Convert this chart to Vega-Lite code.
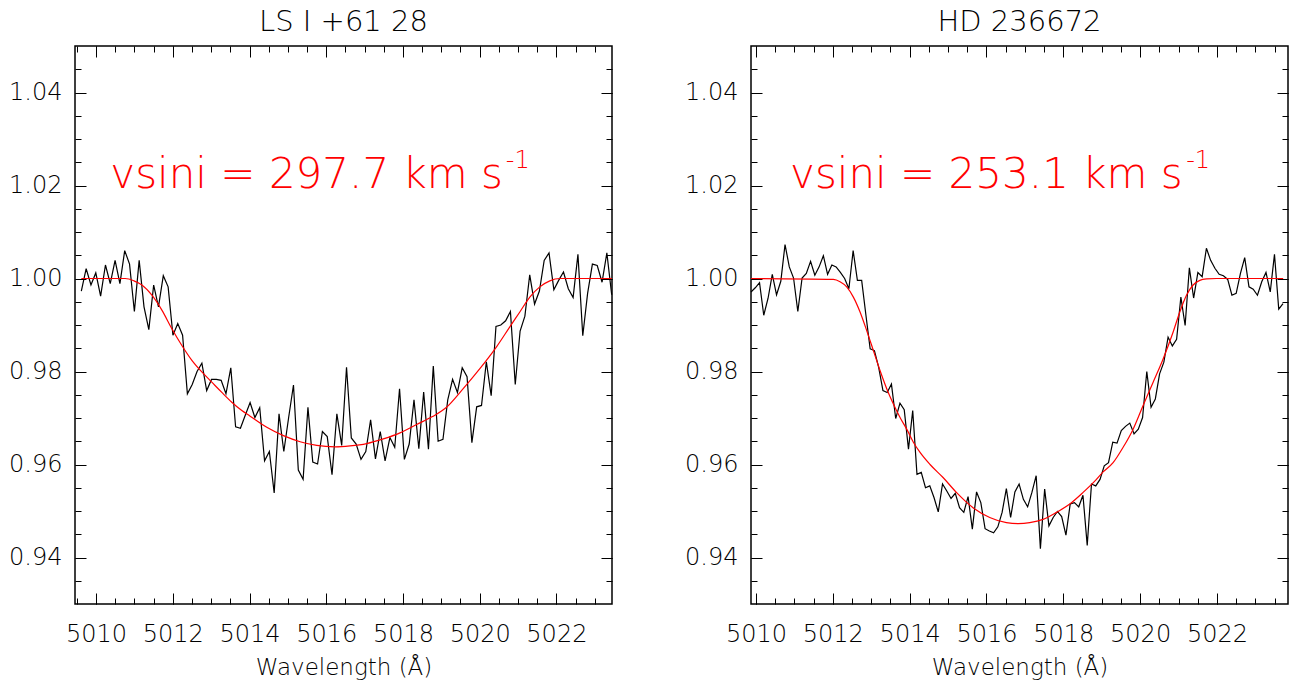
{
  "$schema": "https://vega.github.io/schema/vega-lite/v6.json",
  "background": "white",
  "padding": {"left": 7, "top": 6, "right": 10, "bottom": 5},
  "spacing": 68,
  "config": {
    "view": {"stroke": "#000000", "strokeWidth": 1.5},
    "axis": {"grid": false, "domain": false, "tickColor": "#000000", "tickWidth": 1, "labelColor": "#000000", "labelFont": "DejaVu Sans", "labelFontWeight": 200, "labelFontSize": 24, "titleFont": "DejaVu Sans", "titleFontWeight": 200, "titleFontSize": 23, "titleColor": "#000000"},
    "title": {"font": "DejaVu Sans", "fontWeight": 200, "fontSize": 29, "color": "#000000", "offset": 9},
    "line": {"strokeWidth": 1.2}
  },
  "datasets": {
    "left_obs": [
      {"w": 5009.615, "f": 0.9973}, {"w": 5009.741, "f": 1.0021}, {"w": 5009.866, "f": 0.9986}, {"w": 5009.992, "f": 1.0012}, {"w": 5010.118, "f": 0.9962}, {"w": 5010.244, "f": 1.0029}, {"w": 5010.369, "f": 0.9989}, {"w": 5010.495, "f": 1.0039}, {"w": 5010.621, "f": 0.9989}, {"w": 5010.746, "f": 1.006},
      {"w": 5010.872, "f": 1.0031}, {"w": 5010.998, "f": 0.9929}, {"w": 5011.123, "f": 1.0039}, {"w": 5011.249, "f": 0.9939}, {"w": 5011.375, "f": 0.989}, {"w": 5011.501, "f": 0.9986}, {"w": 5011.626, "f": 0.9939}, {"w": 5011.752, "f": 1.0006}, {"w": 5011.878, "f": 0.9982}, {"w": 5012.003, "f": 0.9878},
      {"w": 5012.129, "f": 0.9903}, {"w": 5012.255, "f": 0.9878}, {"w": 5012.38, "f": 0.9752}, {"w": 5012.506, "f": 0.9772}, {"w": 5012.632, "f": 0.98}, {"w": 5012.758, "f": 0.9818}, {"w": 5012.883, "f": 0.9759}, {"w": 5013.009, "f": 0.9783}, {"w": 5013.135, "f": 0.9783}, {"w": 5013.26, "f": 0.9781},
      {"w": 5013.386, "f": 0.9752}, {"w": 5013.512, "f": 0.9808}, {"w": 5013.637, "f": 0.9681}, {"w": 5013.763, "f": 0.9678}, {"w": 5013.889, "f": 0.9706}, {"w": 5014.015, "f": 0.9733}, {"w": 5014.14, "f": 0.9701}, {"w": 5014.266, "f": 0.9722}, {"w": 5014.392, "f": 0.9608}, {"w": 5014.517, "f": 0.9628},
      {"w": 5014.643, "f": 0.9539}, {"w": 5014.769, "f": 0.9709}, {"w": 5014.894, "f": 0.9628}, {"w": 5015.02, "f": 0.9701}, {"w": 5015.146, "f": 0.9771}, {"w": 5015.272, "f": 0.9588}, {"w": 5015.397, "f": 0.9568}, {"w": 5015.523, "f": 0.9723}, {"w": 5015.649, "f": 0.9605}, {"w": 5015.774, "f": 0.9601},
      {"w": 5015.9, "f": 0.9671}, {"w": 5016.026, "f": 0.966}, {"w": 5016.151, "f": 0.9578}, {"w": 5016.277, "f": 0.9709}, {"w": 5016.403, "f": 0.9641}, {"w": 5016.529, "f": 0.9809}, {"w": 5016.654, "f": 0.9657}, {"w": 5016.78, "f": 0.9644}, {"w": 5016.906, "f": 0.9611}, {"w": 5017.031, "f": 0.9628},
      {"w": 5017.157, "f": 0.9696}, {"w": 5017.283, "f": 0.9612}, {"w": 5017.408, "f": 0.9671}, {"w": 5017.534, "f": 0.9608}, {"w": 5017.66, "f": 0.9658}, {"w": 5017.786, "f": 0.9637}, {"w": 5017.911, "f": 0.9763}, {"w": 5018.037, "f": 0.9611}, {"w": 5018.163, "f": 0.9644}, {"w": 5018.288, "f": 0.9739},
      {"w": 5018.414, "f": 0.9634}, {"w": 5018.54, "f": 0.9756}, {"w": 5018.665, "f": 0.9633}, {"w": 5018.791, "f": 0.9812}, {"w": 5018.917, "f": 0.965}, {"w": 5019.043, "f": 0.9654}, {"w": 5019.168, "f": 0.9739}, {"w": 5019.294, "f": 0.9783}, {"w": 5019.42, "f": 0.9755}, {"w": 5019.545, "f": 0.9808},
      {"w": 5019.671, "f": 0.9789}, {"w": 5019.797, "f": 0.9647}, {"w": 5019.922, "f": 0.9724}, {"w": 5020.048, "f": 0.9727}, {"w": 5020.174, "f": 0.9821}, {"w": 5020.3, "f": 0.9748}, {"w": 5020.425, "f": 0.9897}, {"w": 5020.551, "f": 0.99}, {"w": 5020.677, "f": 0.9909}, {"w": 5020.802, "f": 0.9929},
      {"w": 5020.928, "f": 0.9772}, {"w": 5021.054, "f": 0.9887}, {"w": 5021.179, "f": 0.9919}, {"w": 5021.305, "f": 1.0008}, {"w": 5021.431, "f": 0.9945}, {"w": 5021.557, "f": 0.9973}, {"w": 5021.682, "f": 1.0039}, {"w": 5021.808, "f": 1.0055}, {"w": 5021.934, "f": 0.9976}, {"w": 5022.059, "f": 0.9996},
      {"w": 5022.185, "f": 1.0014}, {"w": 5022.311, "f": 0.9978}, {"w": 5022.436, "f": 0.9959}, {"w": 5022.562, "f": 1.0052}, {"w": 5022.688, "f": 0.9877}, {"w": 5022.814, "f": 0.9968}, {"w": 5022.939, "f": 1.0031}, {"w": 5023.065, "f": 1.0028}, {"w": 5023.191, "f": 0.9992}, {"w": 5023.316, "f": 1.0055},
      {"w": 5023.442, "f": 0.9965}
    ],
    "left_fit": [
      {"w": 5009.615, "f": 1.0}, {"w": 5010.76, "f": 1.0}, {"w": 5010.986, "f": 0.9995}, {"w": 5011.195, "f": 0.9986}, {"w": 5011.455, "f": 0.9964}, {"w": 5011.715, "f": 0.9932}, {"w": 5011.976, "f": 0.9892}, {"w": 5012.236, "f": 0.9856}, {"w": 5012.497, "f": 0.9824}, {"w": 5012.757, "f": 0.9799},
      {"w": 5013.017, "f": 0.9777}, {"w": 5013.278, "f": 0.9755}, {"w": 5013.538, "f": 0.9734}, {"w": 5013.799, "f": 0.9716}, {"w": 5014.016, "f": 0.9704}, {"w": 5014.45, "f": 0.968}, {"w": 5014.884, "f": 0.9662}, {"w": 5015.318, "f": 0.9649}, {"w": 5015.752, "f": 0.9641}, {"w": 5016.229, "f": 0.9638},
      {"w": 5016.62, "f": 0.964}, {"w": 5017.054, "f": 0.9645}, {"w": 5017.488, "f": 0.9655}, {"w": 5017.922, "f": 0.9668}, {"w": 5018.356, "f": 0.9686}, {"w": 5018.77, "f": 0.9703}, {"w": 5019.137, "f": 0.9723}, {"w": 5019.571, "f": 0.9763}, {"w": 5020.005, "f": 0.9806}, {"w": 5020.439, "f": 0.9853},
      {"w": 5020.786, "f": 0.9896}, {"w": 5021.047, "f": 0.9928}, {"w": 5021.307, "f": 0.996}, {"w": 5021.568, "f": 0.9982}, {"w": 5021.828, "f": 0.9995}, {"w": 5022.089, "f": 1.0}, {"w": 5023.443, "f": 1.0}
    ],
    "left_txt": [{"w": 5010.37, "f": 1.0195, "t": "vsini = 297.7 km s"}],
    "left_sup": [{"w": 5020.68, "f": 1.0238, "t": "-1"}],
    "right_obs": [
      {"w": 5009.87, "f": 0.9971}, {"w": 5009.981, "f": 0.998}, {"w": 5010.092, "f": 0.9991}, {"w": 5010.202, "f": 0.9921}, {"w": 5010.313, "f": 0.9957}, {"w": 5010.424, "f": 1.0009}, {"w": 5010.535, "f": 0.9965}, {"w": 5010.646, "f": 0.9994}, {"w": 5010.756, "f": 1.0073}, {"w": 5010.867, "f": 1.0025},
      {"w": 5010.978, "f": 1.0001}, {"w": 5011.089, "f": 0.9929}, {"w": 5011.2, "f": 1.0001}, {"w": 5011.31, "f": 1.0011}, {"w": 5011.421, "f": 1.0037}, {"w": 5011.532, "f": 1.0007}, {"w": 5011.643, "f": 1.0025}, {"w": 5011.754, "f": 1.0049}, {"w": 5011.864, "f": 1.0009}, {"w": 5011.975, "f": 1.0029},
      {"w": 5012.086, "f": 1.0025}, {"w": 5012.197, "f": 1.0013}, {"w": 5012.308, "f": 1.0}, {"w": 5012.418, "f": 0.9978}, {"w": 5012.529, "f": 1.006}, {"w": 5012.64, "f": 0.9996}, {"w": 5012.751, "f": 0.9996}, {"w": 5012.862, "f": 0.9921}, {"w": 5012.972, "f": 0.9849}, {"w": 5013.083, "f": 0.9845},
      {"w": 5013.194, "f": 0.9809}, {"w": 5013.305, "f": 0.9759}, {"w": 5013.416, "f": 0.9755}, {"w": 5013.526, "f": 0.9773}, {"w": 5013.637, "f": 0.9699}, {"w": 5013.748, "f": 0.9732}, {"w": 5013.859, "f": 0.9718}, {"w": 5013.97, "f": 0.9633}, {"w": 5014.08, "f": 0.9716}, {"w": 5014.191, "f": 0.9579},
      {"w": 5014.302, "f": 0.9583}, {"w": 5014.413, "f": 0.955}, {"w": 5014.524, "f": 0.9554}, {"w": 5014.634, "f": 0.9529}, {"w": 5014.745, "f": 0.9498}, {"w": 5014.856, "f": 0.9558}, {"w": 5014.967, "f": 0.9543}, {"w": 5015.078, "f": 0.9527}, {"w": 5015.188, "f": 0.9538}, {"w": 5015.299, "f": 0.9507},
      {"w": 5015.41, "f": 0.9497}, {"w": 5015.521, "f": 0.9531}, {"w": 5015.632, "f": 0.9461}, {"w": 5015.742, "f": 0.9541}, {"w": 5015.853, "f": 0.9518}, {"w": 5015.964, "f": 0.9462}, {"w": 5016.075, "f": 0.9457}, {"w": 5016.186, "f": 0.9453}, {"w": 5016.296, "f": 0.9466}, {"w": 5016.407, "f": 0.9497},
      {"w": 5016.518, "f": 0.9548}, {"w": 5016.629, "f": 0.9486}, {"w": 5016.74, "f": 0.9541}, {"w": 5016.85, "f": 0.9558}, {"w": 5016.961, "f": 0.9525}, {"w": 5017.072, "f": 0.9509}, {"w": 5017.183, "f": 0.954}, {"w": 5017.294, "f": 0.9576}, {"w": 5017.404, "f": 0.9419}, {"w": 5017.515, "f": 0.9547},
      {"w": 5017.626, "f": 0.9468}, {"w": 5017.737, "f": 0.9486}, {"w": 5017.848, "f": 0.9499}, {"w": 5017.958, "f": 0.9488}, {"w": 5018.069, "f": 0.9448}, {"w": 5018.18, "f": 0.9515}, {"w": 5018.291, "f": 0.9518}, {"w": 5018.402, "f": 0.9509}, {"w": 5018.512, "f": 0.9534}, {"w": 5018.623, "f": 0.9426},
      {"w": 5018.734, "f": 0.9558}, {"w": 5018.845, "f": 0.9554}, {"w": 5018.956, "f": 0.9568}, {"w": 5019.066, "f": 0.9597}, {"w": 5019.177, "f": 0.9604}, {"w": 5019.288, "f": 0.9648}, {"w": 5019.399, "f": 0.9646}, {"w": 5019.51, "f": 0.9673}, {"w": 5019.62, "f": 0.9682}, {"w": 5019.731, "f": 0.9689},
      {"w": 5019.842, "f": 0.9666}, {"w": 5019.953, "f": 0.9676}, {"w": 5020.064, "f": 0.9701}, {"w": 5020.174, "f": 0.98}, {"w": 5020.285, "f": 0.9723}, {"w": 5020.396, "f": 0.9741}, {"w": 5020.507, "f": 0.9795}, {"w": 5020.618, "f": 0.982}, {"w": 5020.728, "f": 0.9874}, {"w": 5020.839, "f": 0.9855},
      {"w": 5020.95, "f": 0.9869}, {"w": 5021.061, "f": 0.996}, {"w": 5021.172, "f": 0.9899}, {"w": 5021.282, "f": 1.0023}, {"w": 5021.393, "f": 0.9958}, {"w": 5021.504, "f": 1.0013}, {"w": 5021.615, "f": 1.0004}, {"w": 5021.726, "f": 1.0065}, {"w": 5021.836, "f": 1.0039}, {"w": 5021.947, "f": 1.0022},
      {"w": 5022.058, "f": 1.0009}, {"w": 5022.169, "f": 1.0006}, {"w": 5022.28, "f": 0.9998}, {"w": 5022.39, "f": 0.9964}, {"w": 5022.501, "f": 0.9968}, {"w": 5022.612, "f": 1.0011}, {"w": 5022.723, "f": 1.0045}, {"w": 5022.834, "f": 0.9982}, {"w": 5022.944, "f": 0.9977}, {"w": 5023.055, "f": 0.9964},
      {"w": 5023.166, "f": 0.9993}, {"w": 5023.277, "f": 1.0013}, {"w": 5023.388, "f": 0.9971}, {"w": 5023.498, "f": 1.0052}, {"w": 5023.609, "f": 0.9934}, {"w": 5023.72, "f": 0.9946}
    ],
    "right_fit": [
      {"w": 5009.87, "f": 1.0}, {"w": 5012.014, "f": 0.9998}, {"w": 5012.188, "f": 0.9993}, {"w": 5012.361, "f": 0.9982}, {"w": 5012.535, "f": 0.996}, {"w": 5012.709, "f": 0.9928}, {"w": 5012.882, "f": 0.9888}, {"w": 5013.056, "f": 0.9845}, {"w": 5013.229, "f": 0.9802}, {"w": 5013.403, "f": 0.9763},
      {"w": 5013.577, "f": 0.973}, {"w": 5013.75, "f": 0.9701}, {"w": 5013.924, "f": 0.9676}, {"w": 5014.097, "f": 0.9648}, {"w": 5014.271, "f": 0.9626}, {"w": 5014.531, "f": 0.96}, {"w": 5014.87, "f": 0.9572}, {"w": 5015.217, "f": 0.954}, {"w": 5015.651, "f": 0.9507}, {"w": 5016.085, "f": 0.9486},
      {"w": 5016.519, "f": 0.9475}, {"w": 5016.823, "f": 0.9473}, {"w": 5017.127, "f": 0.9475}, {"w": 5017.474, "f": 0.9482}, {"w": 5017.821, "f": 0.9497}, {"w": 5018.169, "f": 0.9515}, {"w": 5018.516, "f": 0.954}, {"w": 5018.863, "f": 0.9568}, {"w": 5019.037, "f": 0.9584}, {"w": 5019.297, "f": 0.9604},
      {"w": 5019.558, "f": 0.9637}, {"w": 5019.818, "f": 0.9676}, {"w": 5020.078, "f": 0.9727}, {"w": 5020.339, "f": 0.9777}, {"w": 5020.599, "f": 0.9827}, {"w": 5020.86, "f": 0.9885}, {"w": 5021.033, "f": 0.9928}, {"w": 5021.207, "f": 0.9964}, {"w": 5021.38, "f": 0.9986}, {"w": 5021.554, "f": 0.9996},
      {"w": 5021.728, "f": 0.9999}, {"w": 5021.988, "f": 1.0}, {"w": 5023.724, "f": 1.0}
    ],
    "right_txt": [{"w": 5010.886, "f": 1.0195, "t": "vsini = 253.1 km s"}],
    "right_sup": [{"w": 5021.2, "f": 1.0238, "t": "-1"}]
  },
  "hconcat": [
    {
      "width": 537, "height": 558,
      "title": {"text": "LS I +61  28"},
      "resolve": {"axis": {"x": "independent", "y": "independent"}},
      "layer": [
        {
          "data": {"name": "left_obs"},
          "mark": {"type": "line", "color": "#000000", "strokeWidth": 1.2},
          "encoding": {
            "x": {"field": "w", "type": "quantitative", "scale": {"domain": [5009.45, 5023.45], "nice": false, "zero": false},
              "axis": {"orient": "bottom", "values": [5010, 5012, 5014, 5016, 5018, 5020, 5022], "format": "d", "tickSize": -11, "labelPadding": 29, "title": "Wavelength (Å)", "titlePadding": 10}},
            "y": {"field": "f", "type": "quantitative", "scale": {"domain": [0.93, 1.05], "nice": false, "zero": false},
              "axis": {"orient": "left", "values": [0.94, 0.96, 0.98, 1.0, 1.02, 1.04], "format": ".2f", "tickSize": -11, "labelPadding": 24, "title": null}}
          }
        },
        {
          "data": {"name": "left_fit"},
          "mark": {"type": "line", "color": "#ff0000", "strokeWidth": 1.2, "interpolate": "monotone"},
          "encoding": {
            "x": {"field": "w", "type": "quantitative",
              "axis": {"orient": "bottom", "values": [5009.5, 5010, 5010.5, 5011, 5011.5, 5012, 5012.5, 5013, 5013.5, 5014, 5014.5, 5015, 5015.5, 5016, 5016.5, 5017, 5017.5, 5018, 5018.5, 5019, 5019.5, 5020, 5020.5, 5021, 5021.5, 5022, 5022.5, 5023], "tickSize": -6, "labels": false, "title": null}},
            "y": {"field": "f", "type": "quantitative",
              "axis": {"orient": "left", "values": [0.935, 0.94, 0.945, 0.95, 0.955, 0.96, 0.965, 0.97, 0.975, 0.98, 0.985, 0.99, 0.995, 1.0, 1.005, 1.01, 1.015, 1.02, 1.025, 1.03, 1.035, 1.04, 1.045], "tickSize": -6, "labels": false, "title": null}}
          }
        },
        {
          "data": {"name": "left_txt"},
          "mark": {"type": "text", "color": "#ff0000", "font": "DejaVu Sans", "fontWeight": 200, "fontSize": 42, "align": "left", "baseline": "alphabetic"},
          "encoding": {
            "x": {"field": "w", "type": "quantitative",
              "axis": {"orient": "top", "values": [5010, 5012, 5014, 5016, 5018, 5020, 5022], "tickSize": -11, "labels": false, "title": null}},
            "y": {"field": "f", "type": "quantitative",
              "axis": {"orient": "right", "values": [0.94, 0.96, 0.98, 1.0, 1.02, 1.04], "tickSize": -11, "labels": false, "title": null}},
            "text": {"field": "t", "type": "nominal"}
          }
        },
        {
          "data": {"name": "left_sup"},
          "mark": {"type": "text", "color": "#ff0000", "font": "DejaVu Sans", "fontWeight": 200, "fontSize": 24, "align": "left", "baseline": "alphabetic"},
          "encoding": {
            "x": {"field": "w", "type": "quantitative",
              "axis": {"orient": "top", "values": [5009.5, 5010, 5010.5, 5011, 5011.5, 5012, 5012.5, 5013, 5013.5, 5014, 5014.5, 5015, 5015.5, 5016, 5016.5, 5017, 5017.5, 5018, 5018.5, 5019, 5019.5, 5020, 5020.5, 5021, 5021.5, 5022, 5022.5, 5023], "tickSize": -6, "labels": false, "title": null}},
            "y": {"field": "f", "type": "quantitative",
              "axis": {"orient": "right", "values": [0.935, 0.94, 0.945, 0.95, 0.955, 0.96, 0.965, 0.97, 0.975, 0.98, 0.985, 0.99, 0.995, 1.0, 1.005, 1.01, 1.015, 1.02, 1.025, 1.03, 1.035, 1.04, 1.045], "tickSize": -6, "labels": false, "title": null}},
            "text": {"field": "t", "type": "nominal"}
          }
        }
      ]
    },
    {
      "width": 537, "height": 558,
      "title": {"text": "HD 236672"},
      "resolve": {"axis": {"x": "independent", "y": "independent"}},
      "layer": [
        {
          "data": {"name": "right_obs"},
          "mark": {"type": "line", "color": "#000000", "strokeWidth": 1.2},
          "encoding": {
            "x": {"field": "w", "type": "quantitative", "scale": {"domain": [5009.87, 5023.85], "nice": false, "zero": false},
              "axis": {"orient": "bottom", "values": [5010, 5012, 5014, 5016, 5018, 5020, 5022], "format": "d", "tickSize": -11, "labelPadding": 29, "title": "Wavelength (Å)", "titlePadding": 10}},
            "y": {"field": "f", "type": "quantitative", "scale": {"domain": [0.93, 1.05], "nice": false, "zero": false},
              "axis": {"orient": "left", "values": [0.94, 0.96, 0.98, 1.0, 1.02, 1.04], "format": ".2f", "tickSize": -11, "labelPadding": 24, "title": null}}
          }
        },
        {
          "data": {"name": "right_fit"},
          "mark": {"type": "line", "color": "#ff0000", "strokeWidth": 1.2, "interpolate": "monotone"},
          "encoding": {
            "x": {"field": "w", "type": "quantitative",
              "axis": {"orient": "bottom", "values": [5010, 5010.5, 5011, 5011.5, 5012, 5012.5, 5013, 5013.5, 5014, 5014.5, 5015, 5015.5, 5016, 5016.5, 5017, 5017.5, 5018, 5018.5, 5019, 5019.5, 5020, 5020.5, 5021, 5021.5, 5022, 5022.5, 5023, 5023.5], "tickSize": -6, "labels": false, "title": null}},
            "y": {"field": "f", "type": "quantitative",
              "axis": {"orient": "left", "values": [0.935, 0.94, 0.945, 0.95, 0.955, 0.96, 0.965, 0.97, 0.975, 0.98, 0.985, 0.99, 0.995, 1.0, 1.005, 1.01, 1.015, 1.02, 1.025, 1.03, 1.035, 1.04, 1.045], "tickSize": -6, "labels": false, "title": null}}
          }
        },
        {
          "data": {"name": "right_txt"},
          "mark": {"type": "text", "color": "#ff0000", "font": "DejaVu Sans", "fontWeight": 200, "fontSize": 42, "align": "left", "baseline": "alphabetic"},
          "encoding": {
            "x": {"field": "w", "type": "quantitative",
              "axis": {"orient": "top", "values": [5010, 5012, 5014, 5016, 5018, 5020, 5022], "tickSize": -11, "labels": false, "title": null}},
            "y": {"field": "f", "type": "quantitative",
              "axis": {"orient": "right", "values": [0.94, 0.96, 0.98, 1.0, 1.02, 1.04], "tickSize": -11, "labels": false, "title": null}},
            "text": {"field": "t", "type": "nominal"}
          }
        },
        {
          "data": {"name": "right_sup"},
          "mark": {"type": "text", "color": "#ff0000", "font": "DejaVu Sans", "fontWeight": 200, "fontSize": 24, "align": "left", "baseline": "alphabetic"},
          "encoding": {
            "x": {"field": "w", "type": "quantitative",
              "axis": {"orient": "top", "values": [5010, 5010.5, 5011, 5011.5, 5012, 5012.5, 5013, 5013.5, 5014, 5014.5, 5015, 5015.5, 5016, 5016.5, 5017, 5017.5, 5018, 5018.5, 5019, 5019.5, 5020, 5020.5, 5021, 5021.5, 5022, 5022.5, 5023, 5023.5], "tickSize": -6, "labels": false, "title": null}},
            "y": {"field": "f", "type": "quantitative",
              "axis": {"orient": "right", "values": [0.935, 0.94, 0.945, 0.95, 0.955, 0.96, 0.965, 0.97, 0.975, 0.98, 0.985, 0.99, 0.995, 1.0, 1.005, 1.01, 1.015, 1.02, 1.025, 1.03, 1.035, 1.04, 1.045], "tickSize": -6, "labels": false, "title": null}},
            "text": {"field": "t", "type": "nominal"}
          }
        }
      ]
    }
  ]
}
